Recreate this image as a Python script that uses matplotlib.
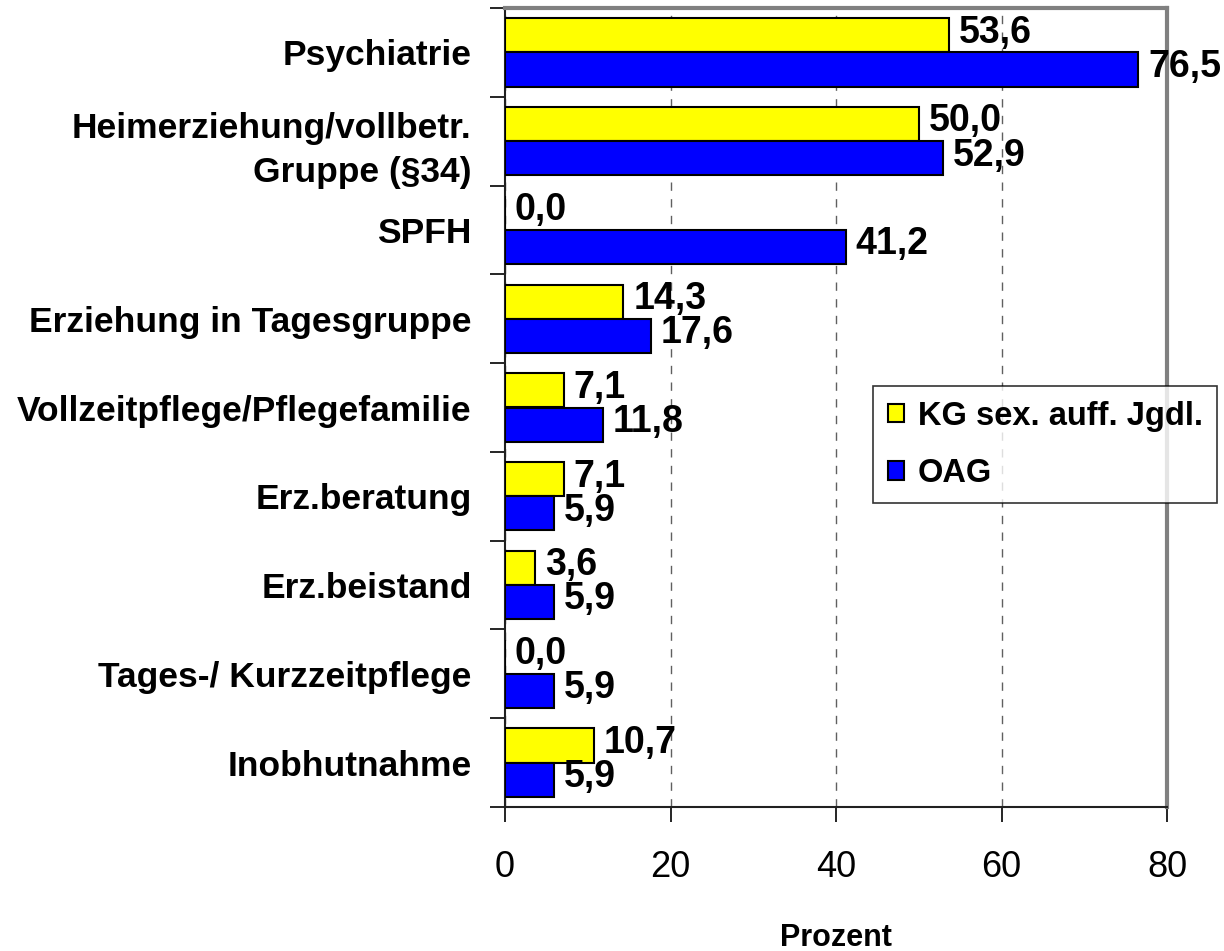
import numpy as np
import matplotlib.pyplot as plt
from matplotlib.patches import Patch

categories = [
    "Psychiatrie",
    "Heimerziehung/vollbetr.\nGruppe (§34)",
    "SPFH",
    "Erziehung in Tagesgruppe",
    "Vollzeitpflege/Pflegefamilie",
    "Erz.beratung",
    "Erz.beistand",
    "Tages-/ Kurzzeitpflege",
    "Inobhutnahme",
]
kg_values = [53.6, 50.0, 0.0, 14.3, 7.1, 7.1, 3.6, 0.0, 10.7]
oag_values = [76.5, 52.9, 41.2, 17.6, 11.8, 5.9, 5.9, 5.9, 5.9]
series_names = ["KG sex. auff. Jgdl.", "OAG"]
x_ticks = [0, 20, 40, 60, 80]

plt.rcParams["font.family"] = ["Liberation Sans", "DejaVu Sans"]

fig = plt.figure(figsize=(12.24, 9.51), dpi=100)
ax = fig.add_axes([505 / 1224, 1 - 807 / 951, (1167 - 505) / 1224, (807 - 8) / 951])

y = np.arange(len(categories))
h = 0.385
bars_kg = ax.barh(y - h / 2, kg_values, height=h, color="#ffff00", edgecolor="black", linewidth=1.5, zorder=3)
bars_oag = ax.barh(y + h / 2, oag_values, height=h, color="#0000ff", edgecolor="black", linewidth=1.5, zorder=3)

def fmt(v):
    return f"{v:.1f}".replace(".", ",")

for bars, vals in ((bars_kg, kg_values), (bars_oag, oag_values)):
    for b, v in zip(bars, vals):
        ax.text(v + 1.2, b.get_y() + b.get_height() / 2 - 0.03, fmt(v), ha="left", va="center",
                fontsize=27, fontweight="bold", zorder=4, clip_on=False)

ax.set_xlim(0, 80)
ax.set_ylim(len(categories) - 0.5, -0.5)
ax.set_xticks(x_ticks)
ax.set_xticklabels([str(t) for t in x_ticks], fontsize=26)
ax.set_yticks(y)
ax.set_yticklabels(categories, fontsize=25.5, fontweight="bold", ha="right",
                   multialignment="right", linespacing=1.45)
ax.set_yticks(np.arange(-0.5, len(categories), 1.0), minor=True)
ax.tick_params(axis="y", which="major", length=0, pad=24)
ax.tick_params(axis="y", which="minor", length=11, width=1.2, direction="out")
ax.tick_params(axis="x", length=11, width=1.2, direction="out", pad=20)

ax.xaxis.grid(True, linestyle=(0, (6, 6)), color="#606060", linewidth=1)
ax.set_axisbelow(True)

for side in ("top", "right"):
    ax.spines[side].set_color("#808080")
    ax.spines[side].set_linewidth(3)
for side in ("left", "bottom"):
    ax.spines[side].set_color("#202020")
    ax.spines[side].set_linewidth(1.5)

ax.set_xlabel("Prozent", fontsize=22, fontweight="bold", labelpad=27)

handles = [Patch(facecolor="#ffff00", edgecolor="black", linewidth=1.5),
           Patch(facecolor="#0000ff", edgecolor="black", linewidth=1.5)]
leg = fig.legend(handles, series_names, loc="upper left",
                 bbox_to_anchor=(873 / 1224, 1 - 386 / 951), bbox_transform=fig.transFigure,
                 prop={"size": 23.5, "weight": "bold"}, frameon=True, fancybox=False,
                 handlelength=0.5, handleheight=0.5, handletextpad=0.42, labelspacing=0.8,
                 borderpad=0.45, borderaxespad=0)
leg.get_frame().set_edgecolor("black")
leg.get_frame().set_linewidth(1.2)

fig.savefig("out.png", dpi=100)
